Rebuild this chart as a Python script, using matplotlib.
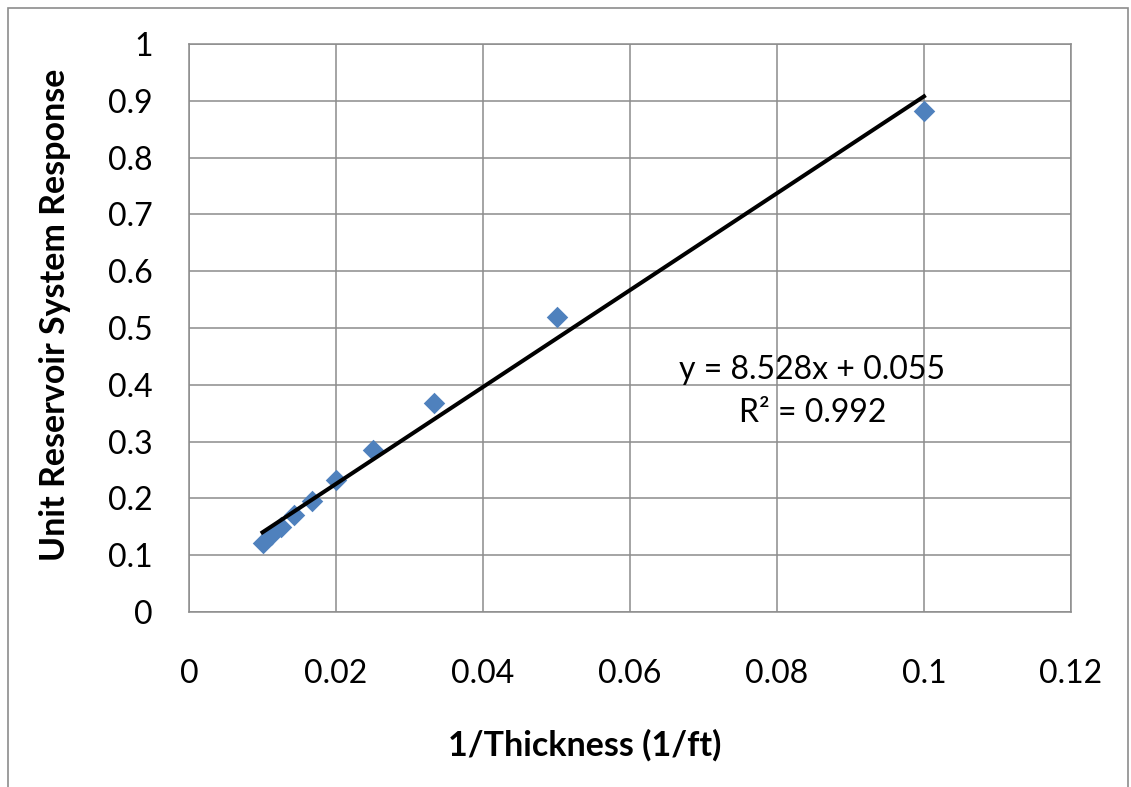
import matplotlib
matplotlib.use("Agg")
import matplotlib.pyplot as plt
from matplotlib.patches import Rectangle
import numpy as np

# Data
inv_thickness = [0.1, 0.05, 0.0333, 0.025, 0.02, 0.0167, 0.0143, 0.0125, 0.0111, 0.01]
response = [0.882, 0.520, 0.368, 0.285, 0.233, 0.196, 0.170, 0.149, 0.135, 0.121]
slope = 8.528
intercept = 0.055
fit_x = [0.01, 0.1]
x_ticks = [0, 0.02, 0.04, 0.06, 0.08, 0.1, 0.12]
x_tick_labels = ["0", "0.02", "0.04", "0.06", "0.08", "0.1", "0.12"]
y_ticks = [0, 0.1, 0.2, 0.3, 0.4, 0.5, 0.6, 0.7, 0.8, 0.9, 1.0]
y_tick_labels = ["0", "0.1", "0.2", "0.3", "0.4", "0.5", "0.6", "0.7", "0.8", "0.9", "1"]

plt.rcParams['font.family'] = ['Lato', 'DejaVu Sans']

fig = plt.figure(figsize=(11.31, 7.87), dpi=100)
# outer chart border
fig.patches.append(Rectangle((8/1131, -0.01), 1 - 8/1131 - 3/1131, 1 - 8/787 + 0.01, transform=fig.transFigure,
                             fill=False, edgecolor='#8c8c8c', linewidth=1.2))

ax = fig.add_axes([189/1131, 1 - 612/787, (1071-189)/1131, (612-44)/787])
ax.set_xlim(0, 0.12)
ax.set_ylim(0, 1)
ax.set_xticks(x_ticks)
ax.set_xticklabels(x_tick_labels)
ax.set_yticks(y_ticks)
ax.set_yticklabels(y_tick_labels)
ax.tick_params(axis='x', length=0, pad=34, labelsize=23)
ax.tick_params(axis='y', length=0, pad=26, labelsize=23)
ax.grid(True, color='#8c8c8c', linewidth=1.1)
ax.set_axisbelow(True)
for s in ax.spines.values():
    s.set_color('#8c8c8c')
    s.set_linewidth(1.1)

ax.scatter(inv_thickness, response, marker='D', s=120, color='#4F81BD', zorder=3, linewidths=0)
fx = np.array(fit_x)
ax.plot(fx, slope * fx + intercept, color='black', linewidth=2.9, zorder=4)

ax.text(0.0848, 0.426, "y = 8.528x + 0.055", fontsize=23, ha='center', va='center')
ax.text(0.0848, 0.350, "R² = 0.992", fontsize=23, ha='center', va='center')

fig.text(585/1131, 1 - 745/787, "1/Thickness (1/ft)", fontsize=24.5, fontweight='bold',
         ha='center', va='center')
fig.text(55/1131, 1 - 315/787, "Unit Reservoir System Response", fontsize=24.5, fontweight='bold',
         ha='center', va='center', rotation=90)

fig.savefig("out.png", dpi=100)
